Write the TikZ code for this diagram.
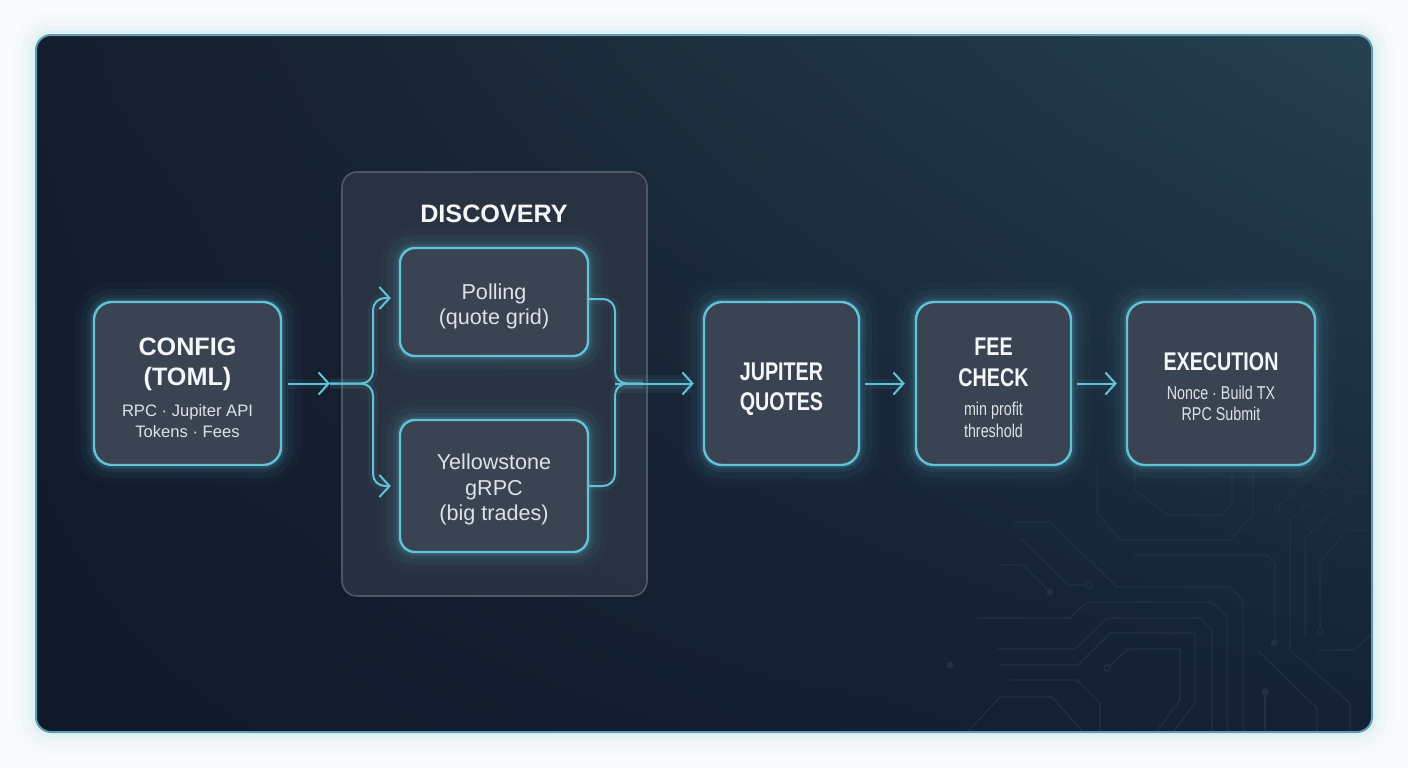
\documentclass[tikz,border=0pt]{standalone}
\usepackage{fontspec}
\setmainfont{Liberation Sans}
\newfontfamily\narrowfont[FakeStretch=0.77]{Liberation Sans}
\usetikzlibrary{arrows.meta,shadings}
\definecolor{pagebg}{HTML}{F8FBFC}
\definecolor{halo}{HTML}{BFE0E8}
\definecolor{panelUL}{HTML}{151C2D}
\definecolor{panelUR}{HTML}{25414F}
\definecolor{panelLL}{HTML}{111829}
\definecolor{panelLR}{HTML}{142135}
\definecolor{panelborder}{HTML}{5E9DB2}
\definecolor{cyanline}{HTML}{62C3D8}
\definecolor{boxfill}{HTML}{3A4352}
\definecolor{contfill}{HTML}{2B3443}
\definecolor{contline}{HTML}{4A5868}
\definecolor{txt}{HTML}{F4F6F8}
\definecolor{subtxt}{HTML}{DDE2E7}
\definecolor{traceC}{HTML}{1F3244}
\tikzset{
  glow/.style={
    preaction={draw=cyanline,line width=20pt,draw opacity=0.03},
    preaction={draw=cyanline,line width=13pt,draw opacity=0.05},
    preaction={draw=cyanline,line width=7pt,draw opacity=0.08},
    preaction={draw=cyanline,line width=3.5pt,draw opacity=0.14}},
  box/.style={glow, draw=cyanline, fill=boxfill, line width=1.2pt, rounded corners=9pt, inner sep=0pt},
  smallbox/.style={box, rounded corners=7.5pt},
  container/.style={draw=contline, fill=contfill, fill opacity=0.9, line width=0.8pt, rounded corners=7.5pt, inner sep=0pt},
  headtxt/.style={anchor=base, text=txt, font=\bfseries\fontsize{12.6}{15}\selectfont, inner sep=0pt},
  headnarrow/.style={anchor=base, text=txt, font=\narrowfont\bfseries\fontsize{12.8}{15}\selectfont, inner sep=0pt},
  subtxt/.style={anchor=base, text=subtxt, font=\fontsize{8.3}{10}\selectfont, inner sep=0pt},
  subnarrow/.style={anchor=base, text=subtxt, font=\narrowfont\fontsize{9.3}{11}\selectfont, inner sep=0pt},
  midtxt/.style={anchor=base, text=subtxt, font=\fontsize{10.8}{13}\selectfont, inner sep=0pt},
  flow/.style={draw=cyanline, line width=1pt,
    preaction={draw=cyanline, line width=5pt, draw opacity=0.07}},
  tip/.style={-{Straight Barb[length=5pt,width=11pt,line width=1pt]}},
  trace/.style={draw=traceC, line width=0.6pt},
}
\begin{document}
\begin{tikzpicture}[x=0.5pt,y=-0.5pt]
\useasboundingbox (0,0) rectangle (1408,768);
\fill[pagebg] (0,0) rectangle (1408,768);
% panel halo
\foreach \w/\o in {22pt/0.05,15pt/0.07,9pt/0.10,5pt/0.14}
  \draw[halo, line width=\w, draw opacity=\o, rounded corners=7.5pt] (36,35) rectangle (1372,732);
\shade[rounded corners=7.5pt, upper left=panelUL, upper right=panelUR, lower left=panelLL, lower right=panelLR] (36,35) rectangle (1372,732);
% circuit traces
\begin{scope}
\clip[rounded corners=7.5pt] (36,35) rectangle (1372,732);
\draw[trace] (1013,522) -- (1050,522) -- (1117,587) -- (1230,587) -- (1243,600) -- (1243,740);
\draw[trace] (1020,538) -- (1068,585) -- (1086,585);
\draw[trace] (1089,585) circle (1.6pt);
\draw[trace] (1000,565) -- (1023,565) -- (1050,592);
\fill[traceC] (1050,592) circle (1.8pt);
\draw[trace] (977,618) -- (1070,618) -- (1087,602) -- (1212,602) -- (1227,617) -- (1227,740);
\draw[trace] (997,649) -- (1075,649) -- (1107,618) -- (1200,618) -- (1212,630) -- (1212,740);
\draw[trace] (1000,665) -- (1078,665) -- (1110,633) -- (1195,633) -- (1195,703) -- (1167,740);
\draw[trace] (1107,668) circle (1.6pt);
\draw[trace] (1109,666) -- (1128,649) -- (1180,649) -- (1180,700) -- (1150,740);
\draw[trace] (1010,680) -- (1077,680) -- (1100,703) -- (1100,740);
\draw[trace] (960,740) -- (1000,697) -- (1052,697) -- (1090,740);
\fill[traceC] (950,665) circle (1.8pt);
\draw[trace] (1097,463) -- (1097,512) -- (1120,540) -- (1230,540) -- (1253,515) -- (1253,463);
\draw[trace] (1135,463) -- (1135,490) -- (1168,515) -- (1222,515) -- (1232,505) -- (1232,463);
\draw[trace] (1277,508) circle (1.6pt);
\draw[trace] (1279,506) -- (1353,437) -- (1372,420);
\draw[trace] (1133,555) -- (1267,555) -- (1275,563) -- (1275,640);
\fill[traceC] (1274,643) circle (1.8pt);
\draw[trace] (1290,650) -- (1290,520) -- (1375,445);
\draw[trace] (1290,650) -- (1350,703) -- (1350,740);
\draw[trace] (1305,637) -- (1305,538) -- (1353,492) -- (1375,492);
\draw[trace] (1320,632) circle (1.6pt);
\draw[trace] (1320,629) -- (1320,562) -- (1347,530) -- (1375,530);
\draw[trace] (1318,650) -- (1355,650) -- (1375,630);
\draw[trace] (1257,650) -- (1317,708) -- (1317,740);
\fill[traceC] (1265,692) circle (1.8pt);
\draw[trace] (1265,692) -- (1265,740);
\end{scope}
\draw[panelborder, line width=1pt, rounded corners=7.5pt] (36,35) rectangle (1372,732);

% discovery container
\node[container, minimum width=152.5pt, minimum height=212pt] (disc) at (494.5,384) {};
\node[headtxt] (disctitle) at (494,222) {DISCOVERY};

% boxes
\node[box, minimum width=93.5pt, minimum height=81.5pt] (config) at (187.5,383.5) {};
\node[smallbox, minimum width=94pt, minimum height=54pt] (polling) at (494,302) {};
\node[smallbox, minimum width=94pt, minimum height=66pt] (yellow) at (494,486) {};
\node[box, minimum width=77.5pt, minimum height=81.5pt] (jupiter) at (781.5,383.5) {};
\node[box, minimum width=77.5pt, minimum height=81.5pt] (fee) at (993.5,383.5) {};
\node[box, minimum width=94pt, minimum height=81.5pt] (exec) at (1221,383.5) {};

% texts
\node[headtxt] (cfg1) at (187.5,355) {CONFIG};
\node[headtxt] (cfg2) at (187.5,385) {(TOML)};
\node[subtxt] (cfg3) at (187.5,416) {RPC · Jupiter API};
\node[subtxt] (cfg4) at (187.5,437) {Tokens · Fees};
\node[midtxt] (pol1) at (494,299) {Polling};
\node[midtxt] (pol2) at (494,324) {(quote grid)};
\node[midtxt] (yel1) at (494,469) {Yellowstone};
\node[midtxt] (yel2) at (494,495) {gRPC};
\node[midtxt] (yel3) at (494,520) {(big trades)};
\node[headnarrow] (jup1) at (781.5,380) {JUPITER};
\node[headnarrow] (jup2) at (781.5,410) {QUOTES};
\node[headnarrow] (fee1) at (993.5,355) {FEE};
\node[headnarrow] (fee2) at (993.5,386) {CHECK};
\node[subnarrow] (fee3) at (993.5,415) {min profit};
\node[subnarrow] (fee4) at (993.5,437) {threshold};
\node[headnarrow] (ex1) at (1221,370) {EXECUTION};
\node[subnarrow] (ex2) at (1221,399) {Nonce · Build TX};
\node[subnarrow] (ex3) at (1221,420) {RPC Submit};

% connectors
\coordinate (c1) at (330,383.5);
\coordinate (split) at (373,383.5);
\coordinate (merge) at (615,383.5);
\draw[flow, tip] ([xshift=3pt]config.east) -- (c1);
\draw[flow, tip, rounded corners=6pt] (c1) -- (split) |- ([xshift=-4pt,yshift=2pt]polling.west);
\draw[flow, tip, rounded corners=6pt] (c1) -- (split) |- ([xshift=-4pt]yellow.west);
\draw[flow, rounded corners=6pt] ([yshift=1.5pt]polling.east) -| (merge) -- ([xshift=-30pt]jupiter.west);
\draw[flow, rounded corners=6pt] (yellow.east) -| (merge) -- ([xshift=-30pt]jupiter.west);
\draw[draw=cyanline, line width=9pt, draw opacity=0.08] (merge) -- ([xshift=-6pt]jupiter.west);
\draw[flow, tip] (merge) -- ([xshift=-4.5pt]jupiter.west);
\draw[flow, tip] ([xshift=2.5pt]jupiter.east) -- ([xshift=-5pt]fee.west);
\draw[flow, tip] ([xshift=2.5pt]fee.east) -- ([xshift=-4.5pt]exec.west);
\end{tikzpicture}
\end{document}
